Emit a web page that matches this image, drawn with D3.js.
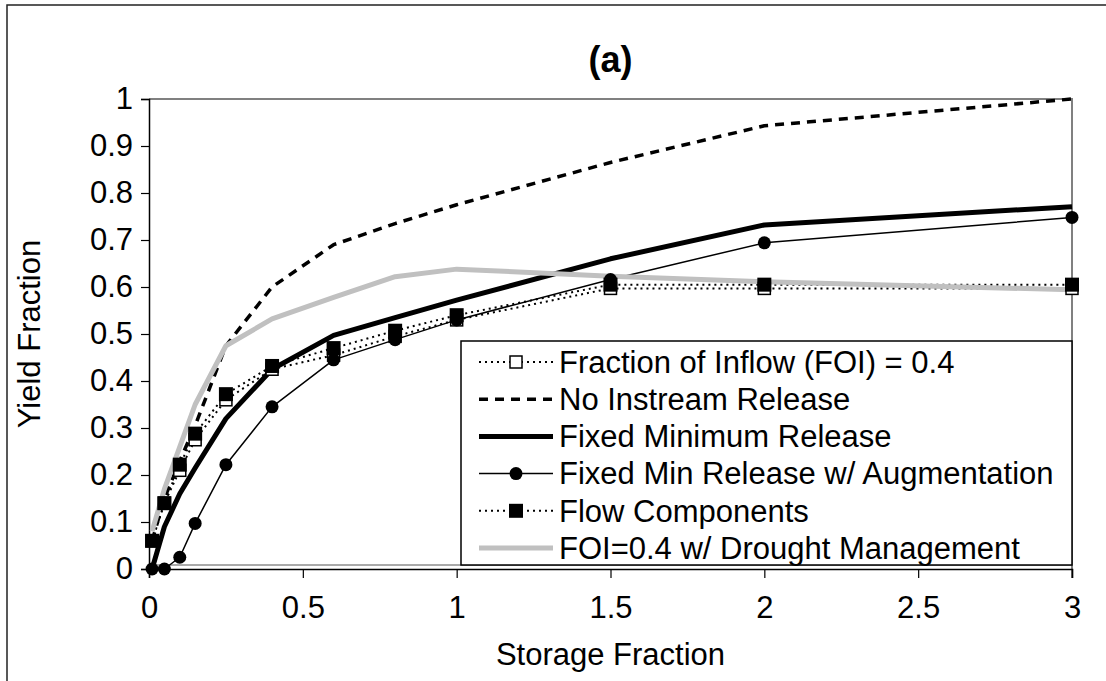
<!DOCTYPE html>
<html>
<head>
<meta charset="utf-8">
<script src="https://cdn.jsdelivr.net/npm/d3@7"></script>
<style>
  body { margin: 0; background: #fff; }
  svg { display: block; font-family: Arial, "Liberation Sans", sans-serif; }
</style>
</head>
<body>
<svg id="chart" width="1106" height="681"></svg>
<script>
// ---------------- données ----------------
const storage = [0.01, 0.05, 0.1, 0.15, 0.25, 0.4, 0.6, 0.8, 1, 1.5, 2, 3]

const foi        = [0.06, 0.14, 0.21, 0.275, 0.36, 0.425, 0.455, 0.495, 0.53, 0.597, 0.597, 0.597]
const noInstream = [0.06, 0.15, 0.23, 0.305, 0.475, 0.6, 0.69, 0.735, 0.775, 0.865, 0.943, 1.0]
const fixedMin   = [0.0, 0.09, 0.16, 0.215, 0.32, 0.425, 0.497, 0.535, 0.572, 0.66, 0.732, 0.771]
const fixedAug   = [0.0, 0.0, 0.025, 0.097, 0.222, 0.345, 0.445, 0.488, 0.53, 0.616, 0.694, 0.748]
const flowComp   = [0.06, 0.14, 0.222, 0.288, 0.372, 0.432, 0.47, 0.507, 0.54, 0.605, 0.605, 0.605]
const drought    = [0.08, 0.17, 0.26, 0.35, 0.475, 0.532, 0.578, 0.622, 0.638, 0.623, 0.611, 0.594]

const seriesNames = [
    "Fraction of Inflow (FOI) = 0.4",
    "No Instream Release",
    "Fixed Minimum Release",
    "Fixed Min Release w/ Augmentation",
    "Flow Components",
    "FOI=0.4 w/ Drought Management"
]

const xTicks = [0, 0.5, 1, 1.5, 2, 2.5, 3]
const yTicks = [0, 0.1, 0.2, 0.3, 0.4, 0.5, 0.6, 0.7, 0.8, 0.9, 1]

// ---------------- styles des séries ----------------
const styles = [
    {values: foi,        color: "#000", width: 2,   dash: "2,4", marker: "open"},
    {values: noInstream, color: "#000", width: 3.5, dash: "9,7", marker: null},
    {values: fixedMin,   color: "#000", width: 5,   dash: null,  marker: null},
    {values: fixedAug,   color: "#000", width: 1.5, dash: null,  marker: "circle"},
    {values: flowComp,   color: "#000", width: 2,   dash: "2,4", marker: "square"},
    {values: drought,    color: "#c0c0c0", width: 5, dash: null, marker: null}
]

const svg = d3.select("#chart")

const gauche = 149, droite = 1072, haut = 99, bas = 569
const fs = "31px"

const x = d3.scaleLinear().domain([0, 3]).range([gauche, droite])
const y = d3.scaleLinear().domain([0, 1]).range([bas, haut])

// cadre extérieur
svg.append("rect")
    .attr("x", 7).attr("y", 5)
    .attr("width", 1120).attr("height", 700)
    .attr("fill", "none").attr("stroke", "#222").attr("stroke-width", 1.5)

// bord gris de la zone de tracé
svg.append("path")
    .attr("d", "M" + gauche + "," + haut + " H" + droite + " V" + (bas + 9))
    .attr("fill", "none").attr("stroke", "#808080").attr("stroke-width", 2)
svg.append("line")
    .attr("x1", gauche).attr("x2", droite).attr("y1", bas - 4).attr("y2", bas - 4)
    .attr("stroke", "#555").attr("stroke-width", 1)

// axes
const yAxis = svg.append("g")
    .attr("transform", "translate(" + gauche + ",0)")
    .call(d3.axisLeft(y).tickValues(yTicks).tickFormat(d => String(d)).tickSize(8).tickPadding(8))
const xAxis = svg.append("g")
    .attr("transform", "translate(0," + bas + ")")
    .call(d3.axisBottom(x).tickValues(xTicks).tickFormat(d => String(d)).tickSize(9).tickPadding(18))

for (const ax of [yAxis, xAxis]) {
    ax.select(".domain").attr("stroke", "#000").attr("stroke-width", 1.5)
    ax.selectAll(".tick line").attr("stroke", "#000").attr("stroke-width", 1.2)
    ax.selectAll(".tick text")
        .attr("fill", "#000")
        .style("font-size", fs)
        .style("font-family", "Arial, 'Liberation Sans', sans-serif")
}

// lignes
const line = d3.line()
    .x((d, i) => x(storage[i]))
    .y(d => y(d))

styles.forEach(s => {
    const p = svg.append("path")
        .datum(s.values)
        .attr("d", line)
        .attr("fill", "none")
        .attr("stroke", s.color)
        .attr("stroke-width", s.width)
        .attr("stroke-linejoin", "round")
    if (s.dash) p.attr("stroke-dasharray", s.dash)
})

// marqueurs
function drawMarker(g, type, cx, cy) {
    if (type == "circle") {
        g.append("circle").attr("cx", cx).attr("cy", cy).attr("r", 6.5).attr("fill", "#000")
    }
    if (type == "square") {
        g.append("rect").attr("x", cx - 7).attr("y", cy - 7).attr("width", 14).attr("height", 14).attr("fill", "#000")
    }
    if (type == "open") {
        g.append("rect").attr("x", cx - 6).attr("y", cy - 6).attr("width", 12).attr("height", 12)
            .attr("fill", "#fff").attr("stroke", "#000").attr("stroke-width", 1.5)
    }
}

const marks = svg.append("g")
styles.forEach(s => {
    if (!s.marker) return
    s.values.forEach((v, i) => drawMarker(marks, s.marker, x(storage[i]), y(v)))
})

// légende
const legend = svg.append("g")
legend.append("rect")
    .attr("x", 461).attr("y", 341).attr("width", droite - 461).attr("height", 224)
    .attr("fill", "#fff").attr("stroke", "#000").attr("stroke-width", 1.5)

styles.forEach((s, i) => {
    const ly = 362 + i * 37.2
    const l = legend.append("line")
        .attr("x1", 479).attr("x2", 553).attr("y1", ly).attr("y2", ly)
        .attr("stroke", s.color).attr("stroke-width", s.width)
    if (s.dash) l.attr("stroke-dasharray", s.dash)
    if (s.marker) drawMarker(legend, s.marker, 516, ly)
    legend.append("text")
        .attr("x", 559).attr("y", ly)
        .attr("dy", "0.35em")
        .style("font-size", fs)
        .text(seriesNames[i])
})

// titres
svg.append("text")
    .attr("x", (gauche + droite) / 2).attr("y", 72)
    .attr("text-anchor", "middle")
    .style("font-size", "36px").style("font-weight", "bold")
    .text("(a)")

svg.append("text")
    .attr("x", (gauche + droite) / 2).attr("y", 665)
    .attr("text-anchor", "middle")
    .style("font-size", fs)
    .text("Storage Fraction")

svg.append("text")
    .attr("transform", "translate(40," + ((haut + bas) / 2) + ") rotate(-90)")
    .attr("text-anchor", "middle")
    .style("font-size", fs)
    .text("Yield Fraction")
</script>
</body>
</html>
